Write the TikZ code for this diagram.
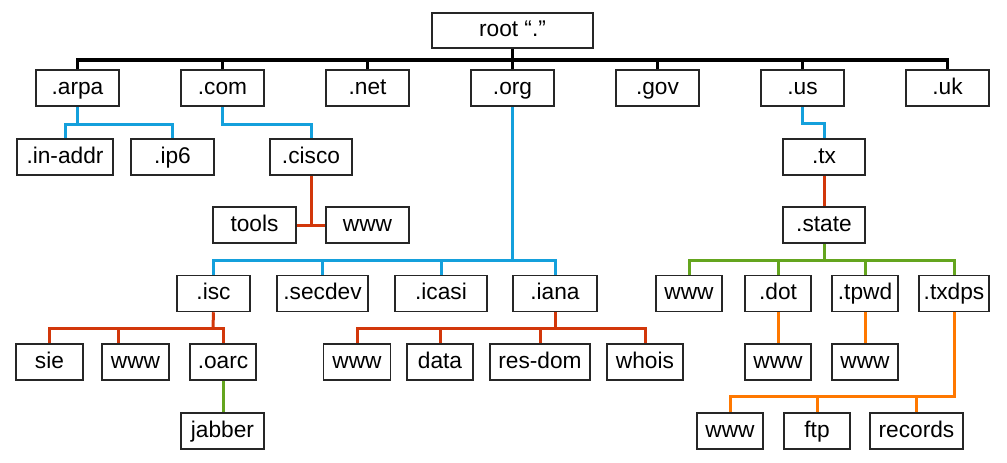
\documentclass[tikz,border=0pt]{standalone}
\usepackage{fontspec}
\setmainfont{Liberation Sans}
\usepackage{tikz}
\usetikzlibrary{positioning}
\definecolor{dnsblue}{RGB}{20,160,220}
\definecolor{dnsred}{RGB}{210,55,10}
\definecolor{dnsgreen}{RGB}{100,165,30}
\definecolor{dnsorange}{RGB}{255,120,0}
\tikzset{
  zone/.style={draw=black!85, line width=1.5pt, fill=white, minimum height=36pt,
    minimum width=83pt, inner sep=0pt, text height=17.3pt, text depth=4.7pt,
    font=\fontsize{22.7}{26}\selectfont},
  link/.style={line width=3pt},
}
\begin{document}
\begin{tikzpicture}[x=1pt,y=-1pt]
 \useasboundingbox (0,0) rectangle (1007,463);
 %\node at (512,5) {DNS tree};
 \node[zone, minimum width=161pt, minimum height=35pt] (root) at (512.5,30.5) {root “.”};
 \node[zone] (arpa) at (77.5,88) {.arpa};
 \node[zone] (com) at (222.5,88) {.com};
 \node[zone] (net) at (367.5,88) {.net};
 \node[zone] (org) at (512.5,88) {.org};
 \node[zone] (gov) at (657.5,88) {.gov};
 \node[zone] (us) at (802.5,88) {.us};
 \node[zone] (uk) at (947.5,88) {.uk};
 \node[zone, minimum width=96pt] (inaddr) at (65,157) {.in-addr};
 \node[zone] (ip6) at (172.5,157) {.ip6};
 \node[zone, minimum width=82pt] (cisco) at (311,157) {.cisco};
 \node[zone, minimum width=82pt] (tx) at (824,157) {.tx};
 \node[zone] (tools) at (254.5,225) {tools};
 \node[zone] (ciscowww) at (367.5,225) {www};
 \node[zone, minimum width=82pt] (state) at (824,225) {.state};
 \node[zone, minimum width=73pt] (isc) at (213.5,293.5) {.isc};
 \node[zone, minimum width=91pt] (secdev) at (322.5,293.5) {.secdev};
 \node[zone, minimum width=92pt] (icasi) at (441,293.5) {.icasi};
 \node[zone, minimum width=84pt] (iana) at (555,293.5) {.iana};
 \node[zone, minimum width=66pt] (statewww) at (689,293.5) {www};
 \node[zone, minimum width=66pt] (dot) at (778,293.5) {.dot};
 \node[zone, minimum width=66pt] (tpwd) at (865,293.5) {.tpwd};
 \node[zone, minimum width=70pt] (txdps) at (954,293.5) {.txdps};
 \node[zone, minimum width=67pt] (sie) at (49.5,362) {sie};
 \node[zone, minimum width=67pt] (iscwww) at (135.5,362) {www};
 \node[zone, minimum width=66pt] (oarc) at (223,362) {.oarc};
 \node[zone, minimum width=67pt] (ianawww) at (357,362) {www};
 \node[zone, minimum width=66pt] (data) at (440,362) {data};
 \node[zone, minimum width=100pt] (resdom) at (540,362) {res-dom};
 \node[zone, minimum width=76pt] (whois) at (645,362) {whois};
 \node[zone, minimum width=66pt] (dotwww) at (778,362) {www};
 \node[zone, minimum width=66pt] (tpwdwww) at (865,362) {www};
 \node[zone] (jabber) at (222.5,431) {jabber};
 \node[zone, minimum width=66pt] (txdpswww) at (730,431) {www};
 \node[zone, minimum width=66pt] (ftp) at (817,431) {ftp};
 \node[zone, minimum width=93pt] (records) at (916.5,431) {records};
 % junctions
 \coordinate (rootj) at (512.5,60);
 \coordinate (orgj) at (512.5,260);
 \coordinate (iscj) at (213,328);
 \coordinate (ianaj) at (555,328);
 \coordinate (statej) at (824,260);
 \coordinate (txdpsj) at (954,396);
 \draw[link, black, line width=3.5pt] (root) -- (rootj);
 \draw[link, black, line width=3.5pt] (arpa.north) |- (rootj) -| (uk.north);
 \foreach \n in {com,net,gov,us}
   \draw[link, black, line width=3.5pt] (\n.north) -- (\n.north |- rootj);
 \draw[link, black, line width=3.5pt] (org) -- (rootj);
 \draw[link, dnsblue] (arpa.south) -- ++(0,18) coordinate (arpaj);
 \draw[link, dnsblue] (inaddr.north) |- (arpaj) -| (ip6.north);
 \draw[link, dnsblue] (com.south) -- ++(0,18) -| (cisco.north);
 \draw[link, dnsblue] (us.south) -- ++(0,17) -| (tx.north);
 \draw[link, dnsred] (cisco.south) -- (cisco.south |- tools.east);
 \draw[link, dnsred] (tools.east) -- (ciscowww.west);
 \draw[link, dnsred] (tx) -- (state);
 \draw[link, dnsblue] (org.south) -- (orgj);
 \draw[link, dnsblue] (isc.north) |- (orgj) -| (iana.north);
 \foreach \n in {secdev,icasi}
   \draw[link, dnsblue] (\n.north) -- (\n.north |- orgj);
 \draw[link, dnsred] (isc.south) -- (iscj);
 \draw[link, dnsred] (sie.north) |- (iscj) -| (oarc.north);
 \draw[link, dnsred] ([xshift=-17pt]iscwww.north) -- ([xshift=-17pt]iscwww.north |- iscj);
 \draw[link, dnsgreen] (oarc.south) -- (oarc.south |- jabber.north);
 \draw[link, dnsred] (iana.south) -- (ianaj);
 \draw[link, dnsred] (ianawww.north) |- (ianaj) -| (whois.north);
 \foreach \n in {data,resdom}
   \draw[link, dnsred] (\n.north) -- (\n.north |- ianaj);
 \draw[link, dnsgreen] (state.south) -- (statej);
 \draw[link, dnsgreen] (statewww.north) |- (statej) -| (txdps.north);
 \foreach \n in {dot,tpwd}
   \draw[link, dnsgreen] (\n.north) -- (\n.north |- statej);
 \draw[link, dnsorange] (dot) -- (dotwww);
 \draw[link, dnsorange] (tpwd) -- (tpwdwww);
 \draw[link, dnsorange] (txdps.south) -- (txdpsj) -| (txdpswww.north);
 \foreach \n in {ftp,records}
   \draw[link, dnsorange] (\n.north) -- (\n.north |- txdpsj);
\end{tikzpicture}
\end{document}
